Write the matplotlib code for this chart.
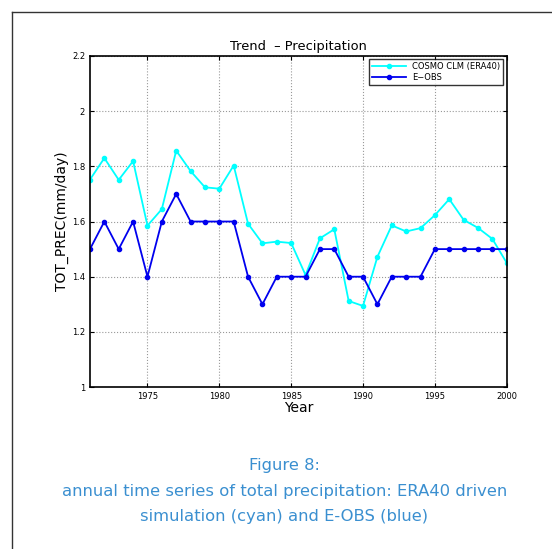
import matplotlib.pyplot as plt
from matplotlib.lines import Line2D

years = list(range(1971, 2001))
cosmo = [1.752, 1.830, 1.751, 1.819, 1.585, 1.645, 1.857, 1.783, 1.724, 1.719,
         1.803, 1.592, 1.521, 1.527, 1.522, 1.406, 1.539, 1.572, 1.312, 1.294,
         1.472, 1.586, 1.564, 1.576, 1.623, 1.681, 1.606, 1.577, 1.537, 1.450]
eobs = [1.5, 1.6, 1.5, 1.6, 1.4, 1.6, 1.7, 1.6, 1.6, 1.6,
        1.6, 1.4, 1.3, 1.4, 1.4, 1.4, 1.5, 1.5, 1.4, 1.4,
        1.3, 1.4, 1.4, 1.4, 1.5, 1.5, 1.5, 1.5, 1.5, 1.5]
xticks = [1975, 1980, 1985, 1990, 1995, 2000]
yticks = [1, 1.2, 1.4, 1.6, 1.8, 2, 2.2]

fig = plt.figure(figsize=(5.52, 5.49), dpi=100)

# page frame (left and top edge of the scanned page)
fig.add_artist(Line2D([0.022, 0.022], [0, 0.978], color='#333333', lw=1.0))
fig.add_artist(Line2D([0.022, 1], [0.978, 0.978], color='#333333', lw=1.0))

ax = fig.add_axes([0.163, 0.295, 0.755, 0.603])
ax.plot(years, cosmo, color='cyan', marker='o', ms=3, lw=1.3, label='COSMO CLM (ERA40)')
ax.plot(years, eobs, color='#0000ee', marker='o', ms=3, lw=1.3, label='E\u2212OBS')

ax.set_xlim(1971, 2000)
ax.set_ylim(1, 2.2)
ax.set_xticks(xticks)
ax.set_yticks(yticks)
ax.set_yticklabels(['1', '1.2', '1.4', '1.6', '1.8', '2', '2.2'])
ax.tick_params(labelsize=6, direction='in', length=3, top=True, right=True)
ax.grid(True, linestyle=':', color='#999999', lw=0.8)
for s in ax.spines.values():
    s.set_linewidth(1.2)

ax.set_title('Trend  \u2013 Precipitation', fontsize=9.4, pad=4)
ax.set_xlabel('Year', fontsize=10, labelpad=0)
ax.set_ylabel('TOT_PREC(mm/day)', fontsize=10, labelpad=2)

leg = ax.legend(loc='upper right', fontsize=6, frameon=True, fancybox=False,
                handlelength=4, borderaxespad=0.4, borderpad=0.35, labelspacing=0.2)
leg.get_frame().set_edgecolor('black')
leg.get_frame().set_linewidth(1.0)

cap = '#3a8fd0'
fig.text(0.515, 0.153, 'Figure 8:', ha='center', va='center', fontsize=11.8, color=cap)
fig.text(0.515, 0.105, 'annual time series of total precipitation: ERA40 driven',
         ha='center', va='center', fontsize=11.8, color=cap)
fig.text(0.515, 0.059, 'simulation (cyan) and E-OBS (blue)',
         ha='center', va='center', fontsize=11.8, color=cap)

fig.savefig('out.png', dpi=100)
